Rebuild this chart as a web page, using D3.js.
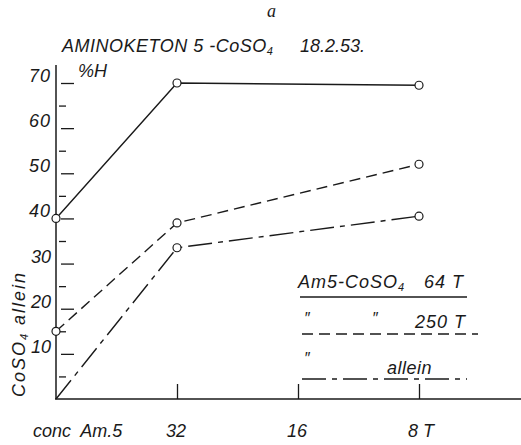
<!DOCTYPE html>
<html><head><meta charset="utf-8">
<script src="https://cdn.jsdelivr.net/npm/d3@7"></script>
<style>
body{margin:0;background:#fff}
text{font-family:"Liberation Sans",Arial,sans-serif;font-style:italic;fill:#1a1a1a}
</style>
</head><body><svg id="c" width="521" height="445"></svg>
<script>
// ---- data ----
const categories = ["conc", "32", "16", "8"];
const categoryLabels = ["conc  Am.5", "32", "16", "8 T"];
const series64 = [40, 70, null, 69.5];
const series250 = [15, 39, null, 52];
const seriesAllein = [0, 33.5, null, 40.5];
const majorTicks = [10, 20, 30, 40, 50, 60, 70];
const minorTicks = [5, 15, 25, 35, 45, 55, 65];
const yTickLabels = ["10", "20", "30", "40", "50", "60", "70"];
const legendNames = ["64 T", "250 T", "allein"];

// ---- drawing ----
const svg = d3.select("#c");
const ink = "#1a1a1a";
const x = d3.scalePoint().domain(categories).range([56, 419]);
const y = d3.scaleLinear().domain([0, 70]).range([399, 83]);

// axes lines
svg.append("line").attr("x1", 56).attr("x2", 56).attr("y1", 65).attr("y2", 399)
  .attr("stroke", ink).attr("stroke-width", 1.5);
svg.append("line").attr("x1", 55).attr("x2", 521).attr("y1", 399).attr("y2", 399)
  .attr("stroke", ink).attr("stroke-width", 1.5);

// y ticks (right of axis)
const gMaj = svg.append("g").attr("transform", "translate(61,0)")
  .call(d3.axisRight(y).tickValues(majorTicks).tickSize(13).tickFormat(""));
const gMin = svg.append("g").attr("transform", "translate(59,0)")
  .call(d3.axisRight(y).tickValues(minorTicks).tickSize(7).tickFormat(""));
[gMaj, gMin].forEach(g => {
  g.select(".domain").remove();
  g.selectAll("line").attr("stroke", ink).attr("stroke-width", 1.3);
});

// y tick labels
svg.selectAll(".ylab").data(majorTicks).join("text")
  .attr("x", 51).attr("y", d => y(d) - 1)
  .attr("text-anchor", "end").attr("font-size", 18)
  .attr("letter-spacing", (d, i) => i >= 3 ? 1 : 0)
  .text((d, i) => yTickLabels[i]);

// x ticks (upward)
const gx = svg.append("g").attr("transform", "translate(0,399)")
  .call(d3.axisTop(x).tickValues(["32", "16", "8"]).tickSize(15).tickFormat(""));
gx.select(".domain").remove();
gx.selectAll("line").attr("stroke", ink).attr("stroke-width", 1.3);

// x labels
svg.selectAll(".xlab").data(categories).join("text")
  .attr("x", (d, i) => i === 0 ? x(d) - 23 : x(d) - 11)
  .attr("y", 437).attr("font-size", 18)
  .attr("xml:space", "preserve")
  .text((d, i) => categoryLabels[i]);

// lines
const line = d3.line().defined(d => d.v != null).x(d => x(d.c)).y(d => y(d.v));
const mk = arr => categories.map((c, i) => ({c, v: arr[i]}));
const styles = [
  {data: series64, dash: null},
  {data: series250, dash: "11,6"},
  {data: seriesAllein, dash: "24,6,5,6"}
];
styles.forEach(s => {
  const pts = mk(s.data).filter(d => d.v != null);
  svg.append("path").datum(pts).attr("d", line)
    .attr("fill", "none").attr("stroke", ink).attr("stroke-width", 1.4)
    .attr("stroke-dasharray", s.dash);
});
styles.forEach(s => {
  svg.selectAll(null).data(mk(s.data).filter(d => d.v != null && d.v > 0)).join("circle")
    .attr("cx", d => x(d.c)).attr("cy", d => y(d.v)).attr("r", 4)
    .attr("fill", "#fff").attr("stroke", ink).attr("stroke-width", 1.2);
});

// title etc.
svg.append("text").attr("x", 267).attr("y", 17).attr("font-size", 18)
  .style("font-family", "'Liberation Serif',serif").text("a");
const t = svg.append("text").attr("x", 62).attr("y", 52).attr("font-size", 18).attr("letter-spacing", 0.5);
t.append("tspan").text("AMINOKETON 5 -CoSO");
t.append("tspan").attr("font-size", 11).attr("dy", 3).text("4");
svg.append("text").attr("x", 300).attr("y", 52).attr("font-size", 18).text("18.2.53.");
svg.append("text").attr("x", 78).attr("y", 77).attr("font-size", 18).text("%H");

// y axis label
const yl = svg.append("text").attr("transform", "translate(25,334) rotate(-90)")
  .attr("text-anchor", "middle").attr("font-size", 18).attr("letter-spacing", 2);
yl.append("tspan").text("CoSO");
yl.append("tspan").attr("font-size", 11).attr("dy", 3).text("4");
yl.append("tspan").attr("dy", -3).text(" allein");

// legend
const lg1 = svg.append("text").attr("x", 298).attr("y", 288).attr("font-size", 18).attr("letter-spacing", 1);
lg1.append("tspan").text("Am5-CoSO");
lg1.append("tspan").attr("font-size", 11).attr("dy", 3).text("4");
lg1.append("tspan").attr("dy", -3).attr("x", 424).text(legendNames[0]);
svg.append("line").attr("x1", 300).attr("x2", 467).attr("y1", 297).attr("y2", 297)
  .attr("stroke", ink).attr("stroke-width", 1.3);

svg.append("text").attr("x", 304).attr("y", 324).attr("font-size", 16).text("\u2033");
svg.append("text").attr("x", 372).attr("y", 324).attr("font-size", 16).text("\u2033");
svg.append("text").attr("x", 415).attr("y", 328).attr("font-size", 18).attr("letter-spacing", 1).text(legendNames[1]);
svg.append("line").attr("x1", 302).attr("x2", 478).attr("y1", 334).attr("y2", 334)
  .attr("stroke", ink).attr("stroke-width", 1.3).attr("stroke-dasharray", "11,6");

svg.append("text").attr("x", 304).attr("y", 364).attr("font-size", 16).text("\u2033");
svg.append("text").attr("x", 387).attr("y", 374).attr("font-size", 18).attr("letter-spacing", 0.5).text(legendNames[2]);
svg.append("line").attr("x1", 302).attr("x2", 467).attr("y1", 379).attr("y2", 379)
  .attr("stroke", ink).attr("stroke-width", 1.3).attr("stroke-dasharray", "24,6,5,6");
</script>
</body></html>
